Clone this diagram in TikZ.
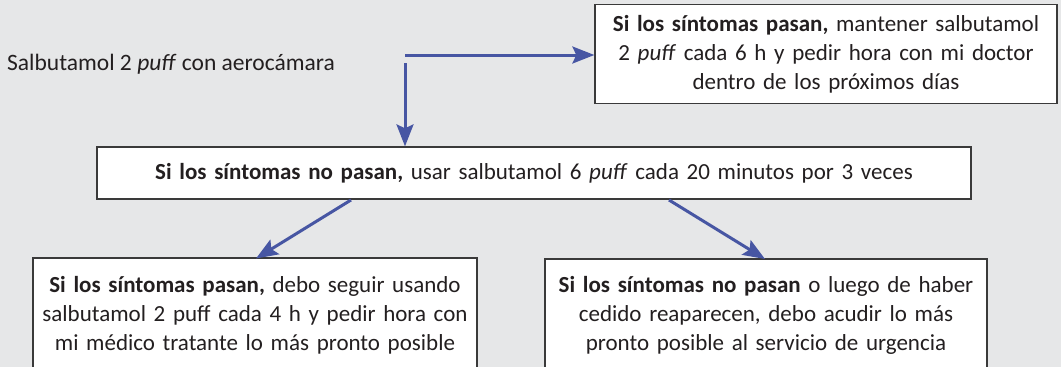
\documentclass[tikz,border=0pt]{standalone}
\usepackage{fontspec}
\setmainfont{Carlito}
\usetikzlibrary{arrows.meta}
\definecolor{bg}{HTML}{E6E7E8}
\definecolor{arr}{HTML}{4756A3}
\definecolor{txt}{HTML}{231F20}
\definecolor{brd}{HTML}{3A3A3A}
\begin{document}
\begin{tikzpicture}[x=1pt,y=-1pt,
  box/.style={draw=brd,line width=1.3pt,fill=white,align=center,inner sep=0pt,
    text=txt,font=\fontsize{23}{29}\selectfont},
  flow/.style={draw=arr,line width=3pt,-{Stealth[length=22pt,width=17pt,inset=4pt]}}]
\clip (0,0) rectangle (1061,367);
\fill[bg] (0,0) rectangle (1061,367);
\useasboundingbox (0,0) rectangle (1061,367);
\node[anchor=west,text=txt,font=\fontsize{23.5}{29}\selectfont,inner sep=0pt] (start) at (7,64) {Salbutamol 2 \emph{puff} con aerocámara};
\node[box,minimum width=462pt,minimum height=99pt,text width=455pt] (ok1) at (826,54)
  {\textbf{Si los síntomas pasan,} mantener salbutamol\\2 \emph{puff} cada 6 h y pedir hora con mi doctor\\dentro de los próximos días};
\node[box,minimum width=874pt,minimum height=52pt,text width=860pt] (mid) at (534,173)
  {\textbf{Si los síntomas no pasan,} usar salbutamol 6 \emph{puff} cada 20 minutos por 3 veces};
\node[box,minimum width=444pt,minimum height=114pt,text width=440pt] (ok2) at (255,315)
  {\textbf{Si los síntomas pasan,} debo seguir usando\\salbutamol 2 puff cada 4 h y pedir hora con\\mi médico tratante lo más pronto posible};
\node[box,minimum width=442pt,minimum height=113pt,text width=438pt] (no2) at (766,315.5)
  {\textbf{Si los síntomas no pasan} o luego de haber\\cedido reaparecen, debo acudir lo más\\pronto posible al servicio de urgencia};
\coordinate (split) at (405,55);
\coordinate (splitv) at (405,63);
\coordinate (dl) at (351,200);
\coordinate (dr) at (669,200);
\draw[flow] (split) -- (ok1.west |- split);
\draw[flow] (splitv) -- (splitv |- mid.north);
\draw[flow] (dl) -- (256,258.5);
\draw[flow] (dr) -- (765,259);
\end{tikzpicture}
\end{document}
